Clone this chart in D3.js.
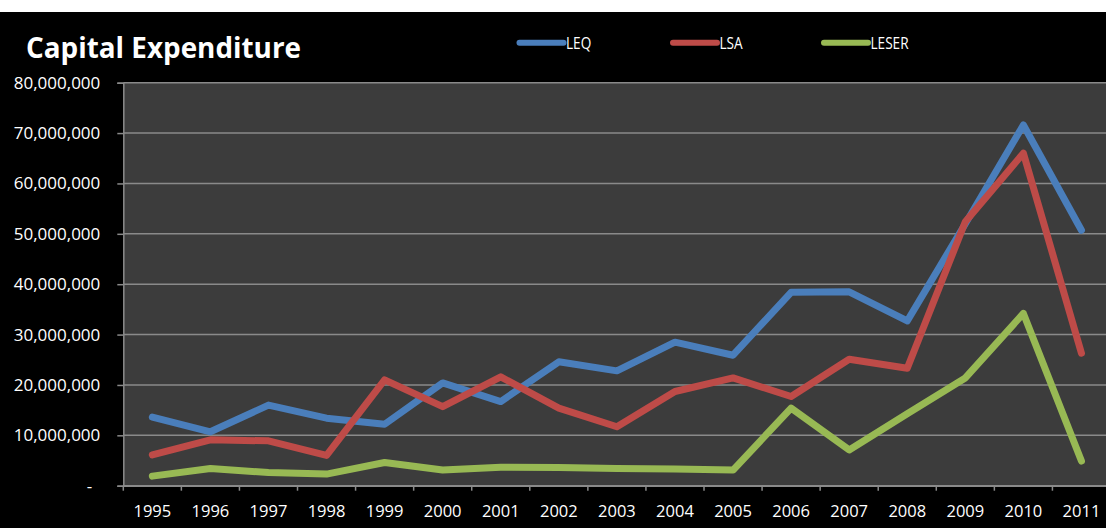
<!DOCTYPE html>
<html>
<head>
<meta charset="utf-8">
<script src="https://cdn.jsdelivr.net/npm/d3@7"></script>
<style>
  body { margin: 0; background: #fff; }
  svg { display: block; font-family: "Open Sans", sans-serif; }
</style>
</head>
<body>
<div id="chart"></div>
<script>
// data
const years = ['1995','1996','1997','1998','1999','2000','2001','2002','2003','2004','2005','2006','2007','2008','2009','2010','2011'];
const leq   = [13.6, 10.7, 16.0, 13.4, 12.2, 20.4, 16.7, 24.6, 22.8, 28.5, 25.9, 38.4, 38.5, 32.7, 52.0, 71.6, 50.7].map(v => v * 1e6);
const lsa   = [6.1, 9.1, 8.9, 6.0, 21.0, 15.7, 21.6, 15.4, 11.7, 18.7, 21.4, 17.7, 25.1, 23.3, 52.4, 66.0, 26.3].map(v => v * 1e6);
const leser = [1.9, 3.4, 2.6, 2.3, 4.6, 3.1, 3.65, 3.6, 3.4, 3.3, 3.1, 15.4, 7.1, 14.3, 21.4, 34.2, 4.9].map(v => v * 1e6);
const yTicks = [0, 10e6, 20e6, 30e6, 40e6, 50e6, 60e6, 70e6, 80e6];

const series = [
    { name: 'LEQ', values: leq, color: '#4a7ebb' },
    { name: 'LSA', values: lsa, color: '#be4b48' },
    { name: 'LESER', values: leser, color: '#98b954' }
];

const width = 1106, height = 528;
const font = '"Open Sans", sans-serif';

const svg = d3.select('#chart')
    .append('svg')
        .attr('width', width)
        .attr('height', height);

// black chart area below the white strip
svg.append('rect')
    .attr('x', 0).attr('y', 12)
    .attr('width', width).attr('height', height - 12)
    .attr('fill', '#000');

// scales
const x = d3.scaleBand()
    .domain(years)
    .range([123.3, 1110.5])
    .padding(0);

const y = d3.scaleLinear()
    .domain([0, 80e6])
    .range([485.7, 82.7]);

const cx = d => x(d) + x.bandwidth() / 2;

// plot background
svg.append('rect')
    .attr('x', x.range()[0]).attr('y', y(80e6))
    .attr('width', x.range()[1] - x.range()[0])
    .attr('height', y(0) - y(80e6))
    .attr('fill', '#3c3c3c');

// gridlines
svg.append('g')
    .selectAll('line')
    .data(yTicks)
    .join('line')
        .attr('x1', x.range()[0]).attr('x2', x.range()[1])
        .attr('y1', d => y(d)).attr('y2', d => y(d))
        .attr('stroke', '#8a8a8a')
        .attr('stroke-width', 1.5);

// y axis
const yAxis = svg.append('g')
    .attr('transform', `translate(${x.range()[0]},0)`)
    .call(d3.axisLeft(y)
        .tickValues(yTicks)
        .tickSize(6)
        .tickPadding(17)
        .tickFormat(d => d === 0 ? '-' : d3.format(',')(d)))
    .attr('font-size', 17)
    .attr('font-family', font);
yAxis.select('.domain').attr('stroke', '#8a8a8a').attr('stroke-width', 1.5);
yAxis.selectAll('.tick line').attr('stroke', '#8a8a8a').attr('stroke-width', 1.5);
yAxis.selectAll('.tick text')
    .attr('fill', '#fff')
    .attr('dx', d => d === 0 ? -8 : 0);

// x axis: labels centred on bands, ticks at band edges
const xAxis = svg.append('g')
    .attr('transform', `translate(0,${y(0)})`)
    .call(d3.axisBottom(x).tickSize(0).tickPadding(20))
    .attr('font-size', 16.5)
    .attr('font-family', font);
xAxis.select('.domain').attr('stroke', '#8a8a8a').attr('stroke-width', 1.5);
xAxis.selectAll('.tick text')
    .attr('fill', '#fff');
xAxis.selectAll('line.edge')
    .data(years.map(d => x(d)).concat([x.range()[1]]))
    .join('line')
        .attr('class', 'edge')
        .attr('x1', d => d).attr('x2', d => d)
        .attr('y1', 0).attr('y2', 5)
        .attr('stroke', '#8a8a8a')
        .attr('stroke-width', 1.5);

// lines
const line = d3.line()
    .x((d, i) => cx(years[i]))
    .y(d => y(d));

svg.append('g')
    .selectAll('path')
    .data(series)
    .join('path')
        .attr('d', d => line(d.values))
        .attr('fill', 'none')
        .attr('stroke', d => d.color)
        .attr('stroke-width', 7)
        .attr('stroke-linejoin', 'round')
        .attr('stroke-linecap', 'round');

// title (squeezed a bit, the original font is narrower)
svg.append('text')
    .attr('x', 26)
    .attr('y', 57.5)
    .attr('fill', '#fff')
    .attr('font-family', font)
    .attr('font-size', 29)
    .attr('font-weight', 'bold')
    .attr('textLength', 275)
    .attr('lengthAdjust', 'spacingAndGlyphs')
    .text('Capital Expenditure');

// legend
const legendX = [519.5, 673, 824];
const legendG = svg.append('g')
    .selectAll('g')
    .data(series)
    .join('g')
        .attr('transform', (d, i) => `translate(${legendX[i]},42.7)`);

legendG.append('line')
    .attr('x1', 0).attr('x2', 44)
    .attr('stroke', d => d.color)
    .attr('stroke-width', 6)
    .attr('stroke-linecap', 'round');

legendG.append('text')
    .attr('x', 46.5)
    .attr('y', 6.3)
    .attr('fill', '#fff')
    .attr('font-family', font)
    .attr('font-size', 17)
    .text(d => d.name)
    .each(function() {
        const w = this.getComputedTextLength();
        d3.select(this)
            .attr('textLength', w * 0.8)
            .attr('lengthAdjust', 'spacingAndGlyphs');
    });
</script>
</body>
</html>
